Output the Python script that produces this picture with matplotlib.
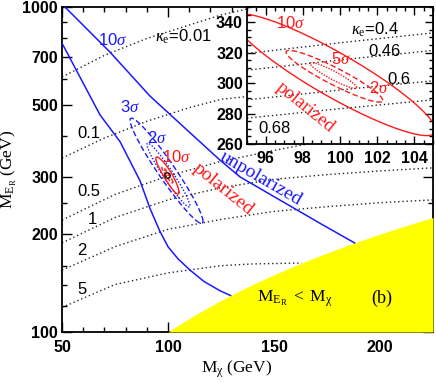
import numpy as np
import matplotlib
matplotlib.use("Agg")
import matplotlib.pyplot as plt
from matplotlib.ticker import FixedLocator, NullFormatter, FixedFormatter

# ---------------- data ----------------
# kappa_e contours in the main panel (M_chi, M_ER)
k001_x = [50, 70, 90, 110, 125, 137]
k001_y = [609, 710, 800, 880, 945, 985]
k01_x = [50, 70, 90, 110, 125, 137]
k01_y = [343, 395, 445, 490, 520, 530]
k05_x = [50, 75, 100, 125, 150, 165]
k05_y = [221, 265, 302, 335, 362, 378]
k1_x = [50, 75, 100, 125, 150, 175, 200, 225]
k1_y = [188, 225, 255, 278, 295, 305, 313, 320]
k2_x = [50, 75, 100, 125, 150, 175, 200, 225]
k2_y = [155, 183, 207, 222, 235, 243, 250, 255]
k5_x = [50, 75, 100, 125, 140, 163]
k5_y = [119, 140, 152, 160, 162, 163]

# unpolarized 10 sigma boundaries
unp_up_x = [51.4, 72.6, 91.5, 124.5, 134, 171.7, 188]
unp_up_y = [1000, 727, 532, 338, 300, 216, 188]
unp_lo_x = [50, 67.9, 77.4, 86.8, 91.5, 96.2, 100, 104.7, 110.4, 117, 124.5, 129.5]
unp_lo_y = [774, 466, 385, 292, 240, 204, 183, 168, 155, 143, 134, 129.5]

# fit ellipses: center x, center y, half-extent x, half-extent y, correlation
red10 = dict(cx=99.7, cy=305.5, hx=5.45, hy=40, rho=-0.911)
red5 = dict(cx=99.7, cy=304.5, hx=2.6, hy=17, rho=-0.93)
red2 = dict(cx=99.65, cy=305, hx=1.25, hy=8.5, rho=-0.93)
# blue: y in log10
blue3 = dict(cx=99.3, cy=2.496, hx=17.2, hy=0.162, rho=-0.96)
blue2 = dict(cx=100.2, cy=2.483, hx=10.1, hy=0.098, rho=-0.96)
true_x, true_y = [99.5], [304]

# inset kappa lines
ik_x = [95, 100, 105]
ik04_y = [319.5, 326.5, 333]
ik046_y = [308.5, 315.2, 321.5]
ik06_y = [289, 295.5, 301.5]
ik068_y = [277, 283.2, 289]

# forbidden region M_ER < M_chi
yel_x = list(range(100, 226, 5))

BLUE = "#1a1aff"
RED = "#ff1a1a"

def ell(p, log=False):
    t = np.linspace(0, 2 * np.pi, 300)
    x = p["cx"] + p["hx"] * np.cos(t)
    y = p["cy"] + p["hy"] * (p["rho"] * np.cos(t) + np.sqrt(1 - p["rho"] ** 2) * np.sin(t))
    if log:
        y = 10 ** y
    return x, y

plt.rcParams["font.family"] = ["Liberation Sans", "DejaVu Sans"]
plt.rcParams["mathtext.fontset"] = "custom"
plt.rcParams["mathtext.rm"] = "Liberation Serif"
plt.rcParams["mathtext.it"] = "Liberation Serif:italic"

fig = plt.figure(figsize=(4.36, 3.82), dpi=100)
ax = fig.add_axes([62 / 436, 50 / 382, 371 / 436, 325 / 382])
ax.set_yscale("log")
ax.set_xlim(50, 225)
ax.set_ylim(100, 1000)

def dpos(px, py):
    return 50 + (px - 62) * 50 / 106, 10 ** (3 - (py - 7) / 325)

dot = dict(color="0.15", lw=1.0, ls=(0, (1, 2)))
for xs, ys in [(k001_x, k001_y), (k01_x, k01_y), (k05_x, k05_y),
               (k1_x, k1_y), (k2_x, k2_y), (k5_x, k5_y)]:
    ax.plot(xs, ys, **dot, zorder=2)

xx = np.array(yel_x, dtype=float)
ax.fill_between(xx, 100, xx, color="#ffff00", lw=0, zorder=3)

ax.plot(unp_up_x, unp_up_y, color=BLUE, lw=1.1, zorder=4)
ax.plot(unp_lo_x, unp_lo_y, color=BLUE, lw=1.1, zorder=4)
bx, by = ell(blue3, log=True)
ax.plot(bx, by, color=BLUE, lw=1.0, ls=(0, (4, 2)), zorder=4)
bx, by = ell(blue2, log=True)
ax.plot(bx, by, color=BLUE, lw=1.0, ls=(0, (1, 1.3)), zorder=4)
for p, ls in [(red10, "-"), (red5, (0, (3, 1.5))), (red2, (0, (1, 1)))]:
    rx, ry = ell(p)
    ax.plot(rx, ry, color=RED, lw=1.0, ls=ls, zorder=5)
ax.plot(true_x, true_y, "o", ms=4, mfc="none", mec="black", mew=0.8, zorder=6)

# ticks main
ax.xaxis.set_major_locator(FixedLocator([50, 100, 150, 200]))
ax.xaxis.set_minor_locator(FixedLocator(list(range(60, 225, 10))))
ax.yaxis.set_major_locator(FixedLocator([100, 200, 300, 500, 700, 1000]))
ax.yaxis.set_major_formatter(FixedFormatter(["100", "200", "300", "500", "700", "1000"]))
ax.yaxis.set_minor_locator(FixedLocator([120, 140, 160, 250, 400, 600, 800, 900]))
ax.yaxis.set_minor_formatter(NullFormatter())
ax.tick_params(which="both", direction="in", top=True, right=True, width=1.0,
               labelsize=11.5)
ax.tick_params(axis="y", pad=3)
ax.tick_params(axis="x", pad=6)
ax.tick_params(which="major", length=7)
ax.tick_params(which="minor", length=3.5)
for lab in ax.get_xticklabels() + ax.get_yticklabels():
    lab.set_fontweight("bold")
for s in ax.spines.values():
    s.set_linewidth(1.3)

ax.set_xlabel(r"$\mathrm{M_{\chi}\ (GeV)}$", fontsize=12.5)
ax.xaxis.set_label_coords(0.47, -0.082)
ax.set_ylabel(r"$\mathrm{M_{E_R}\ (GeV)}$", fontsize=12.5, labelpad=2)

tk = dict(fontsize=12, ha="center", va="center", zorder=7)
ax.text(*dpos(113, 40), r"10$\sigma$", color=BLUE, **tk)
ax.text(*dpos(183, 37), r"$\kappa_{\rm e}$=0.01", color="black", **tk)
ax.text(*dpos(130, 107), r"3$\sigma$", color=BLUE, **tk)
ax.text(*dpos(157, 138), r"2$\sigma$", color=BLUE, **tk)
ax.text(*dpos(177, 157), r"10$\sigma$", color=RED, **tk)
ax.text(*dpos(223, 189), "polarized", color=RED, rotation=-39, fontsize=14,
        ha="center", va="center", family="Liberation Serif", zorder=7)
ax.text(*dpos(261, 179), "unpolarized", color=BLUE, rotation=-30, fontsize=14,
        ha="center", va="center", family="Liberation Serif", zorder=7)
for lab, px, py in [("0.1", 89, 133), ("0.5", 89, 192), ("1", 92, 220), ("2", 82, 250), ("5", 82, 290)]:
    ax.text(*dpos(px, py), lab, color="black", **tk)
ax.text(*dpos(295, 299), r"$\mathrm{M_{E_R}\ <\ M_{\chi}}$", fontsize=12.5,
        ha="center", va="center", zorder=7)
ax.text(*dpos(382, 298), r"$\mathrm{(b)}$", fontsize=13, ha="center", va="center", zorder=7)

# ---------------- inset ----------------
ins = fig.add_axes([247 / 436, 238 / 382, 186 / 436, 137 / 382])
ins.set_xlim(95, 105)
ins.set_ylim(260, 350)
for ys in [ik04_y, ik046_y, ik06_y, ik068_y]:
    ins.plot(ik_x, ys, **dot)
for p, ls in [(red10, "-"), (red5, (0, (4, 2))), (red2, (0, (1, 1)))]:
    rx, ry = ell(p)
    ins.plot(rx, ry, color=RED, lw=1.0, ls=ls)
ins.xaxis.set_major_locator(FixedLocator([96, 98, 100, 102, 104]))
ins.xaxis.set_minor_locator(FixedLocator(list(np.arange(95, 105.01, 0.5))))
ins.yaxis.set_major_locator(FixedLocator([260, 280, 300, 320, 340]))
ins.yaxis.set_minor_locator(FixedLocator(list(range(260, 351, 5))))
ins.tick_params(which="both", direction="in", top=True, right=True, width=1.0,
                labelsize=11.5)
ins.tick_params(axis="y", pad=3)
ins.tick_params(axis="x", pad=5)
ins.tick_params(which="major", length=6)
ins.tick_params(which="minor", length=3)
for lab in ins.get_xticklabels() + ins.get_yticklabels():
    lab.set_fontweight("bold")
for s in ins.spines.values():
    s.set_linewidth(1.3)

def ipos(px, py):
    return 96 + (px - 268) / 18.75, 260 + (145 - py) / 1.55

it = dict(fontsize=12, ha="center", va="center")
ins.text(*ipos(293, 22), r"10$\sigma$", color=RED, **it)
ins.text(*ipos(378, 29), r"$\kappa_{\rm e}$=0.4", color="black", **it)
ins.text(*ipos(388, 51), "0.46", color="black", **it)
ins.text(*ipos(344, 58), r"5$\sigma$", color=RED, **it)
ins.text(*ipos(402, 79), "0.6", color="black", **it)
ins.text(*ipos(382, 88), r"2$\sigma$", color=RED, **it)
ins.text(*ipos(277, 129), "0.68", color="black", **it)
ins.text(*ipos(308, 108), "polarized", color=RED, rotation=-39, fontsize=13.5,
         ha="center", va="center", family="Liberation Serif")

fig.savefig("out.png", dpi=100)
